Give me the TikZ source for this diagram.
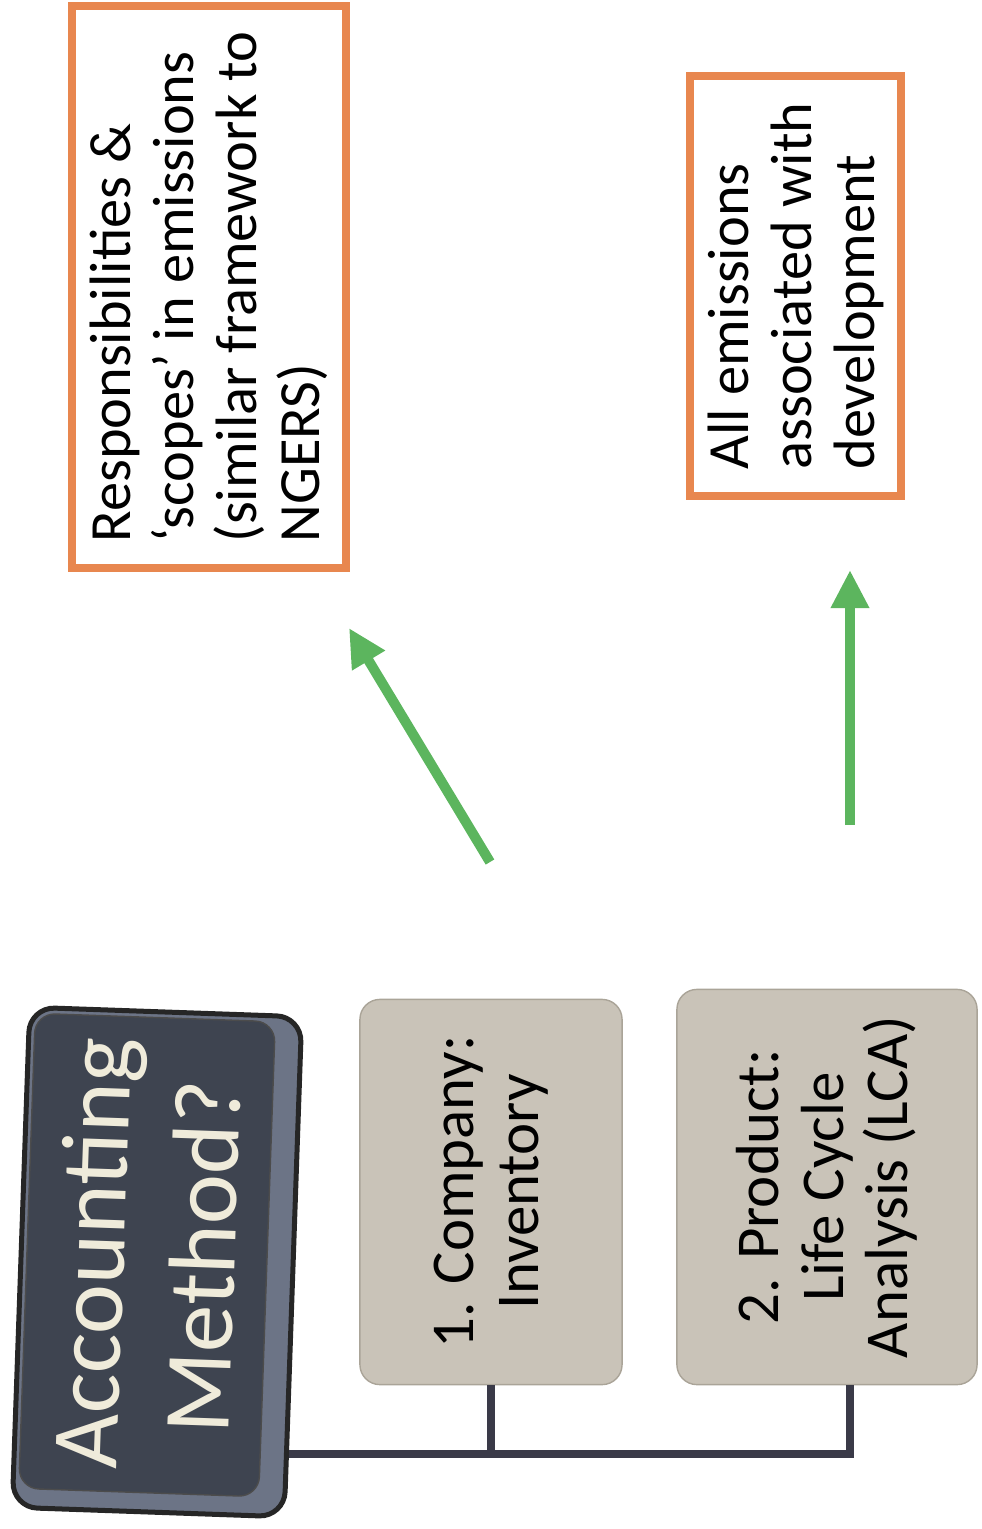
\documentclass[tikz,border=0pt]{standalone}
\usepackage{fontspec}
\setmainfont{Carlito}
\usepackage{xcolor}
\usetikzlibrary{arrows.meta,calc}
\definecolor{noteline}{RGB}{232,135,79}
\definecolor{optfill}{RGB}{201,195,184}
\definecolor{optline}{RGB}{170,164,152}
\definecolor{methodface}{RGB}{62,68,80}
\definecolor{methodrim}{RGB}{108,116,134}
\definecolor{methodtext}{RGB}{239,235,218}
\definecolor{linkcol}{RGB}{58,58,72}
\definecolor{arrowgreen}{RGB}{92,181,94}
\tikzset{
  notebox/.style={rectangle,draw=noteline,line width=0.8mm,rotate=90,align=left,inner sep=0pt,font=\fontsize{16.6}{17.9}\selectfont},
  optbox/.style={rectangle,rounded corners=2mm,draw=optline,fill=optfill,line width=0.4pt,rotate=90,align=center,inner sep=0pt,font=\fontsize{17.3}{18.4}\selectfont},
  rimbox/.style={rectangle,rounded corners=2.5mm,draw=black!85,fill=methodrim,line width=0.5mm,rotate=88},
  methodbox/.style={rectangle,rounded corners=2mm,draw=black!70,fill=methodface,rotate=88,align=center,inner sep=0pt,text=methodtext,font=\fontsize{27}{31.5}\selectfont},
  arrow/.style={-{Triangle[width=3.6mm,length=3.8mm]},line width=1mm,draw=arrowgreen},
  link/.style={line width=0.8mm,draw=linkcol}
}

\begin{document}
\begin{tikzpicture}[x=0.01cm,y=-0.01cm]
  \useasboundingbox (0,0) rectangle (982,1529);

  % outcome notes
  \node[notebox,minimum width=5.62cm,minimum height=2.74cm] (scopes) at (209,287)
    {Responsibilities \&\\‘scopes’ in emissions\\(similar framework to\\NGERS)};
  \node[notebox,minimum width=4.2cm,minimum height=2.11cm] (allem) at (795.5,286)
    {All emissions\\associated with\\development};

  % method and options
  \node[rimbox,minimum width=5.0cm,minimum height=2.72cm] (rim) at (157,1262) {};
  \node[methodbox,minimum width=4.75cm,minimum height=2.4cm] (method) at (147,1255) {Accounting\\Method?};
  \node[optbox,minimum width=3.85cm,minimum height=2.62cm] (company) at (491,1192) {1. Company:\\Inventory};
  \node[optbox,minimum width=3.95cm,minimum height=3.0cm] (product) at (827,1187) {2. Product:\\Life Cycle\\Analysis (LCA)};

  \coordinate (trunk) at ($(rim.south west)!0.13!(rim.south east)$);
  \draw[link] (trunk) -- ([xshift=0.23cm]product.west |- trunk) -- ([xshift=0.23cm]product.west);
  \draw[link] (company.west) -- (company.west |- trunk);

  \coordinate (from1) at (490,862);
  \coordinate (to1) at (349,628);
  \coordinate (from2) at (850,825);
  \coordinate (to2) at (850,570);
  \draw[arrow] (from1) -- (to1);
  \draw[arrow] (from2) -- (to2);
\end{tikzpicture}
\end{document}
